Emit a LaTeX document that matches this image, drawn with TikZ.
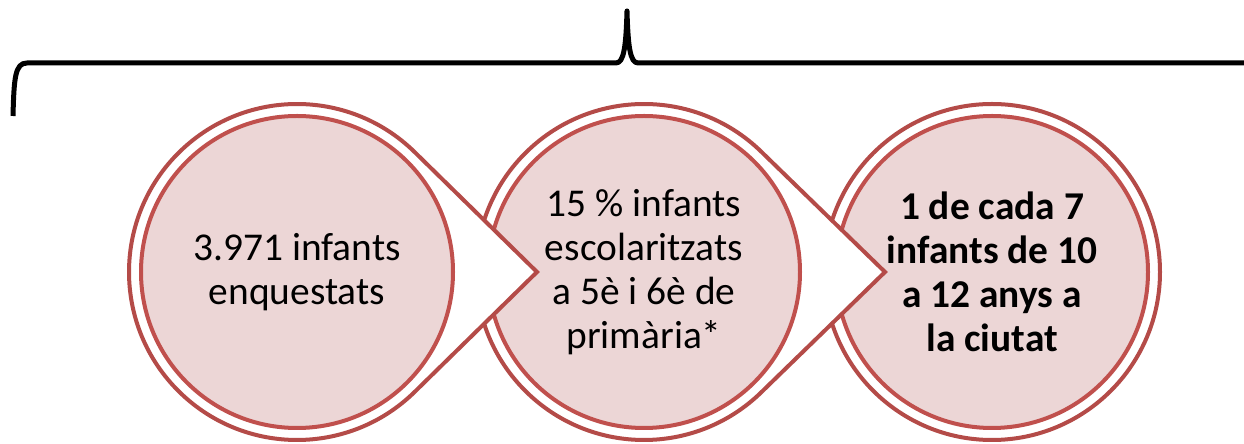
\documentclass[tikz,border=0pt]{standalone}
\usepackage{fontspec}
\setmainfont{Carlito}
\usetikzlibrary{calc}

\definecolor{ringout}{RGB}{180,75,72}
\definecolor{ringin}{RGB}{192,80,77}
\definecolor{stepfill}{RGB}{236,214,214}

\begin{document}
\begin{tikzpicture}[
    x=0.5pt, y=0.5pt,
    stepnode/.style={circle, draw=ringin, fill=stepfill, line width=2pt, minimum size=156pt, inner sep=0pt, align=center, font=\fontsize{19.7pt}{22pt}\selectfont}, % inner ring with text
    outerline/.style={draw=ringout, fill=white, line width=2pt}, % outer ring and chevron
    brace/.style={line width=2.5pt, line join=round}
]
\useasboundingbox (0,0) rectangle (1244,444);

% centres and chevron tips
\coordinate (p1) at (297,172);
\coordinate (p2) at (644,172);
\coordinate (p3) at (992,172);
\coordinate (t1) at (537,172);
\coordinate (t2) at (885,172);

% brace over the steps
\draw[brace] (13,328) .. controls (14,366) and (15,381) .. (27,381) -- (616,381)
    .. controls (624,381) and (626,398) .. (627,433)
    .. controls (628,398) and (630,381) .. (638,381) -- (1246,381);

% last step first, so each chevron lies over the next circle
\draw[outerline] (p3) circle[radius=84pt];
\node[stepnode, font=\fontsize{19.7pt}{22pt}\selectfont\bfseries] (c3) at (p3) {1 de cada 7\\infants de 10\\a 12 anys a\\la ciutat};

\draw[outerline] (p2) ++(45.6:168) arc[start angle=45.6, end angle=314.4, radius=84pt] -- (t2) -- cycle;
\node[stepnode] (c2) at (p2) {15 \% infants\\escolaritzats\\a 5è i 6è de\\primària*};

\draw[outerline] (p1) ++(45.6:168) arc[start angle=45.6, end angle=314.4, radius=84pt] -- (t1) -- cycle;
\node[stepnode] (c1) at (p1) {3.971 infants\\enquestats};

\end{tikzpicture}
\end{document}
